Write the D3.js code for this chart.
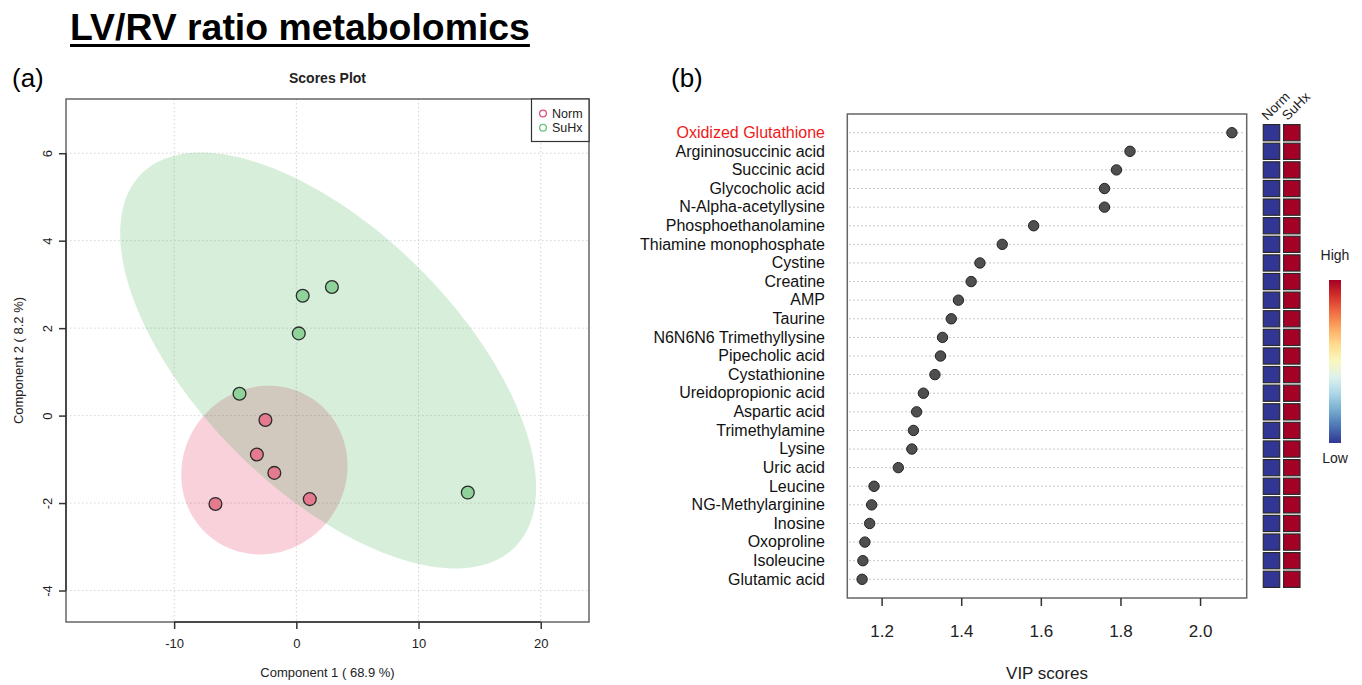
<!DOCTYPE html>
<html>
<head>
<meta charset="utf-8">
<script src="https://cdn.jsdelivr.net/npm/d3@7"></script>
<style>
  html, body { margin: 0; padding: 0; background: #fff; }
  svg { display: block; font-family: "Liberation Sans", Arial, Helvetica, sans-serif; }
</style>
</head>
<body>
<svg id="fig" width="1362" height="685"></svg>
<script>
// ---- PLS-DA scores (component 1 / component 2) ----
const groupNames = ["Norm", "SuHx"];
const normX = [-2.53, -3.23, -1.80, 1.10, -6.62];
const normY = [-0.10, -0.89, -1.31, -1.91, -2.02];
const suhxX = [0.52, 2.91, 0.20, -4.65, 14.03];
const suhxY = [2.74, 2.94, 1.88, 0.50, -1.76];
const scoreXTicks = [-10, 0, 10, 20];
const scoreYTicks = [-4, -2, 0, 2, 4, 6];
const scoreXLimits = [-18.85, 23.95];
const scoreYLimits = [-4.72, 7.24];

// ---- VIP scores, top 25 features ----
const metabolites = [
  "Oxidized Glutathione", "Argininosuccinic acid", "Succinic acid", "Glycocholic acid",
  "N-Alpha-acetyllysine", "Phosphoethanolamine", "Thiamine monophosphate", "Cystine",
  "Creatine", "AMP", "Taurine", "N6N6N6 Trimethyllysine", "Pipecholic acid",
  "Cystathionine", "Ureidopropionic acid", "Aspartic acid", "Trimethylamine", "Lysine",
  "Uric acid", "Leucine", "NG-Methylarginine", "Inosine", "Oxoproline", "Isoleucine",
  "Glutamic acid"
];
const vipScores = [
  2.080, 1.824, 1.790, 1.760, 1.760, 1.582, 1.503, 1.447, 1.425, 1.393, 1.375, 1.353,
  1.348, 1.334, 1.305, 1.288, 1.280, 1.276, 1.242, 1.181, 1.175, 1.170, 1.158, 1.153, 1.151
];
const vipTicks = [1.2, 1.4, 1.6, 1.8, 2.0];
// relative group level per feature (0 = low, 1 = high): [Norm, SuHx]
const normLevel = metabolites.map(() => 0);
const suhxLevel = metabolites.map(() => 1);
const highlighted = ["Oxidized Glutathione"];

const svg = d3.select("#fig");
const FONT = '"Liberation Sans", Arial, Helvetica, sans-serif';
const plainNum = d => String(d); // ASCII hyphen for negatives, as in R graphics

// ---------- header ----------
const title = svg.append("text")
  .attr("x", 70).attr("y", 40)
  .attr("font-size", 37.4).attr("font-weight", "bold").attr("fill", "#000")
  .text("LV/RV ratio metabolomics");
const tw = title.node().getComputedTextLength();
svg.append("rect").attr("x", 70).attr("y", 44).attr("width", tw).attr("height", 3).attr("fill", "#000");

svg.append("text").attr("x", 12).attr("y", 87).attr("font-size", 26).text("(a)");
svg.append("text").attr("x", 671).attr("y", 87).attr("font-size", 26).text("(b)");

// ---------- (a) scores plot ----------
const A = { left: 66, right: 589, top: 99, bottom: 622 };
const sx = d3.scaleLinear().domain(scoreXLimits).range([A.left, A.right]);
const sy = d3.scaleLinear().domain(scoreYLimits).range([A.bottom, A.top]);

const gA = svg.append("g");
// grid
gA.selectAll("line.gx").data(scoreXTicks).join("line")
  .attr("x1", d => sx(d)).attr("x2", d => sx(d)).attr("y1", A.top).attr("y2", A.bottom)
  .attr("stroke", "#d4d4d4").attr("stroke-width", 1).attr("stroke-dasharray", "1.5,2.5");
gA.selectAll("line.gy").data(scoreYTicks).join("line")
  .attr("y1", d => sy(d)).attr("y2", d => sy(d)).attr("x1", A.left).attr("x2", A.right)
  .attr("stroke", "#d4d4d4").attr("stroke-width", 1).attr("stroke-dasharray", "1.5,2.5");

// 95% confidence ellipse from sample covariance (same construction as R's ellipse::ellipse)
function confEllipse(xs, ys, level) {
  const n = xs.length;
  const mx = d3.mean(xs), my = d3.mean(ys);
  let sxx = 0, syy = 0, sxy = 0;
  for (let i = 0; i < n; i++) {
    sxx += (xs[i] - mx) ** 2; syy += (ys[i] - my) ** 2; sxy += (xs[i] - mx) * (ys[i] - my);
  }
  sxx /= (n - 1); syy /= (n - 1); sxy /= (n - 1);
  const sdx = Math.sqrt(sxx), sdy = Math.sqrt(syy);
  const r = sxy / (sdx * sdy);
  const t = Math.sqrt(-2 * Math.log(1 - level)); // sqrt(qchisq(level, 2))
  const d = Math.acos(r);
  const pts = [];
  for (let k = 0; k < 200; k++) {
    const a = -Math.PI + 2 * Math.PI * k / 200;
    pts.push([mx + t * sdx * Math.cos(a + d / 2), my + t * sdy * Math.cos(a - d / 2)]);
  }
  return pts;
}
const ellLine = d3.line().x(p => sx(p[0])).y(p => sy(p[1])).curve(d3.curveLinearClosed);
const groups = [
  { name: groupNames[0], xs: normX, ys: normY, fill: "rgba(222,25,75,0.2)", pt: "#e37a8e", key: "#e0507a" },
  { name: groupNames[1], xs: suhxX, ys: suhxY, fill: "rgba(55,172,75,0.2)", pt: "#8fd29a", key: "#6cc47c" }
];
groups.forEach(g => {
  gA.append("path").attr("d", ellLine(confEllipse(g.xs, g.ys, 0.95))).attr("fill", g.fill).attr("stroke", "none");
});
groups.forEach(g => {
  gA.selectAll(null).data(d3.range(g.xs.length)).join("circle")
    .attr("cx", i => sx(g.xs[i])).attr("cy", i => sy(g.ys[i])).attr("r", 6.4)
    .attr("fill", g.pt).attr("stroke", "#2b2b2b").attr("stroke-width", 1.3);
});

// box
gA.append("rect").attr("x", A.left).attr("y", A.top)
  .attr("width", A.right - A.left).attr("height", A.bottom - A.top)
  .attr("fill", "none").attr("stroke", "#666").attr("stroke-width", 1.5);

// x axis
const axA = d3.axisBottom(sx).tickValues(scoreXTicks).tickFormat(plainNum)
  .tickSize(7).tickSizeOuter(0).tickPadding(10);
const gxA = gA.append("g").attr("transform", `translate(0,${A.bottom})`).call(axA);
gxA.select(".domain").remove();
gxA.append("line").attr("x1", sx(scoreXTicks[0])).attr("x2", sx(scoreXTicks[scoreXTicks.length - 1]))
  .attr("stroke", "#333").attr("stroke-width", 1.5);
gxA.selectAll(".tick line").attr("stroke", "#333").attr("stroke-width", 1.5);
gxA.selectAll(".tick text").attr("font-size", 13).attr("font-family", FONT).attr("fill", "#222");

// y axis (labels parallel to axis)
const axAy = d3.axisLeft(sy).tickValues(scoreYTicks).tickFormat(plainNum)
  .tickSize(7).tickSizeOuter(0).tickPadding(5);
const gyA = gA.append("g").attr("transform", `translate(${A.left},0)`).call(axAy);
gyA.select(".domain").remove();
gyA.append("line").attr("y1", sy(scoreYTicks[0])).attr("y2", sy(scoreYTicks[scoreYTicks.length - 1]))
  .attr("stroke", "#333").attr("stroke-width", 1.5);
gyA.selectAll(".tick line").attr("stroke", "#333").attr("stroke-width", 1.5);
gyA.selectAll(".tick text").attr("font-size", 13).attr("font-family", FONT).attr("fill", "#222")
  .attr("x", -19).attr("y", 4.5).attr("dy", 0).attr("text-anchor", "middle")
  .attr("transform", "rotate(-90,-19,0)");

// titles
gA.append("text").attr("x", (A.left + A.right) / 2).attr("y", 83).attr("text-anchor", "middle")
  .attr("font-size", 14).attr("font-weight", "bold").attr("fill", "#222").text("Scores Plot");
gA.append("text").attr("x", (A.left + A.right) / 2).attr("y", 677).attr("text-anchor", "middle")
  .attr("font-size", 13).attr("fill", "#222").text("Component 1 ( 68.9 %)");
gA.append("text").attr("transform", `translate(23,${(A.top + A.bottom) / 2}) rotate(-90)`)
  .attr("text-anchor", "middle").attr("font-size", 13).attr("fill", "#222").text("Component 2 ( 8.2 %)");

// legend
const lg = gA.append("g");
lg.append("rect").attr("x", 531.5).attr("y", A.top).attr("width", A.right - 531.5).attr("height", 42.5)
  .attr("fill", "#fff").attr("stroke", "#333").attr("stroke-width", 1.2);
groups.forEach((g, i) => {
  lg.append("circle").attr("cx", 543).attr("cy", 113.5 + i * 14.3).attr("r", 3.4)
    .attr("fill", "none").attr("stroke", g.key).attr("stroke-width", 1.3);
  lg.append("text").attr("x", 552).attr("y", 113.5 + i * 14.3).attr("dy", "0.35em")
    .attr("font-size", 12.5).attr("fill", "#222").text(g.name);
});

// ---------- (b) VIP dot chart ----------
const B = { left: 847.3, right: 1246.7, top: 114, bottom: 598 };
const vExt = d3.extent(vipScores);
const pad = (vExt[1] - vExt[0]) * 0.04;
const vx = d3.scaleLinear().domain([vExt[0] - pad, vExt[1] + pad]).range([B.left, B.right]);
const vy = d3.scalePoint().domain(metabolites).range([132.7, 579.3]);
const step = vy.step();

const gB = svg.append("g");
gB.selectAll("line.row").data(metabolites).join("line")
  .attr("x1", B.left + 2).attr("x2", B.right - 2)
  .attr("y1", d => vy(d)).attr("y2", d => vy(d))
  .attr("stroke", "#b5b5b5").attr("stroke-width", 1).attr("stroke-dasharray", "1.5,2.5");
gB.selectAll("circle.vip").data(metabolites).join("circle")
  .attr("cx", (d, i) => vx(vipScores[i])).attr("cy", d => vy(d)).attr("r", 5.2)
  .attr("fill", "#4f4f4f").attr("stroke", "#222").attr("stroke-width", 1);
gB.append("rect").attr("x", B.left).attr("y", B.top)
  .attr("width", B.right - B.left).attr("height", B.bottom - B.top)
  .attr("fill", "none").attr("stroke", "#666").attr("stroke-width", 1.5);

gB.selectAll("text.name").data(metabolites).join("text")
  .attr("x", 825).attr("y", d => vy(d)).attr("dy", "0.33em")
  .attr("text-anchor", "end").attr("font-size", 16)
  .attr("fill", d => highlighted.includes(d) ? "#f01a1a" : "#111")
  .text(d => d);

const axB = d3.axisBottom(vx).tickValues(vipTicks).tickFormat(d3.format(".1f"))
  .tickSize(8).tickSizeOuter(0).tickPadding(19);
const gxB = gB.append("g").attr("transform", `translate(0,${B.bottom})`).call(axB);
gxB.select(".domain").remove();
gxB.selectAll(".tick line").attr("stroke", "#333").attr("stroke-width", 1.5);
gxB.selectAll(".tick text").attr("font-size", 17).attr("font-family", FONT).attr("fill", "#222");
gB.append("text").attr("x", (B.left + B.right) / 2).attr("y", 679).attr("text-anchor", "middle")
  .attr("font-size", 17).attr("fill", "#222").text("VIP scores");

// heat cells
const colorScale = d3.scaleSequential(t => d3.interpolateRdYlBu(1 - t)).domain([0, 1]);
const colX = [1263.3, 1283.6];
const cellW = 16.4, cellH = step - 2.4;
[normLevel, suhxLevel].forEach((lvl, c) => {
  gB.selectAll(null).data(metabolites).join("rect")
    .attr("x", colX[c]).attr("y", d => vy(d) - cellH / 2)
    .attr("width", cellW).attr("height", cellH)
    .attr("fill", (d, i) => colorScale(lvl[i]))
    .attr("stroke", "#2a2a2a").attr("stroke-width", 1.2);
});
groupNames.forEach((g, c) => {
  gB.append("text")
    .attr("transform", `translate(${colX[c] + 4},${121}) rotate(-45)`)
    .attr("font-size", 13.5).attr("fill", "#222").text(g);
});

// colour key
const defs = svg.append("defs");
const grad = defs.append("linearGradient").attr("id", "keygrad")
  .attr("x1", 0).attr("y1", 1).attr("x2", 0).attr("y2", 0);
d3.range(0, 1.0001, 0.1).forEach(t => {
  grad.append("stop").attr("offset", t).attr("stop-color", colorScale(t));
});
gB.append("rect").attr("x", 1329).attr("y", 280).attr("width", 12).attr("height", 163)
  .attr("fill", "url(#keygrad)");
gB.append("text").attr("x", 1335).attr("y", 260).attr("text-anchor", "middle")
  .attr("font-size", 14).attr("fill", "#222").text("High");
gB.append("text").attr("x", 1335).attr("y", 463).attr("text-anchor", "middle")
  .attr("font-size", 14).attr("fill", "#222").text("Low");
</script>
</body>
</html>
